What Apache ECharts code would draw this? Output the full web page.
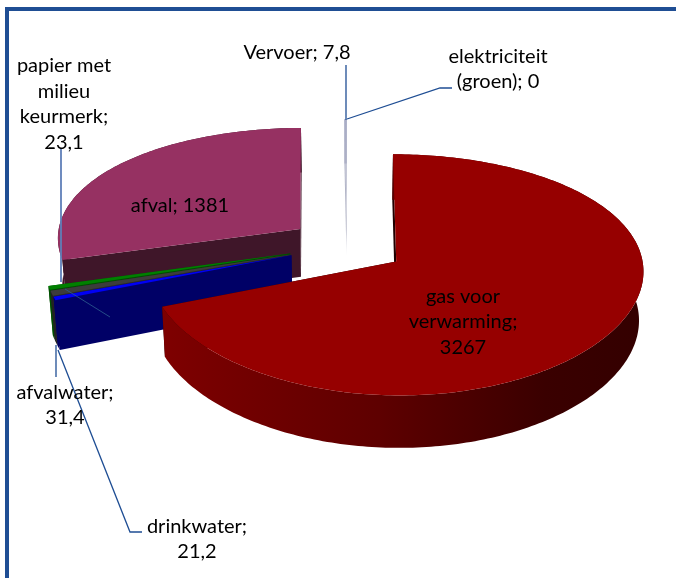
<!DOCTYPE html>
<html><head><meta charset="utf-8">
<style>html,body{margin:0;padding:0;background:#fff}#c{width:676px;height:578px}</style>
<script src="https://cdn.jsdelivr.net/npm/echarts@6/dist/echarts.min.js"></script>
</head><body><div id="c"></div>
<script>
// ---- data
const categories = ['gas voor verwarming','drinkwater','afvalwater','papier met milieu keurmerk','afval','Vervoer','elektriciteit (groen)'];
const values = [3267, 21.2, 31.4, 23.1, 1381, 7.8, 0];
const labelTemplates = ['gas voor\nverwarming;\n#','drinkwater;\n#','afvalwater;\n#','papier met\nmilieu\nkeurmerk;\n#','afval; #','Vervoer; #','elektriciteit\n(groen); #'];
const topColors = ['#960000','#0000f5','#3c3c3c','#008000','#963162','#a9adc6','#b0b0c0'];
const cutColors = ['#200000','#000066','#2a2a2a','#004d00','#3f1629','#b4b6c6','#b0b0c0'];
const sideColors = ['#7c0000','#000066','#222222','#005000','#3f1629','#c0c2d0','#b0b0c0'];
// back-to-front
const paintOrder = [6,5,4,3,2,1,0];

// ---- layout of the tilted, exploded pie
const CX=347, CY=245.4, R=244, EXPLODE=59, TILT=0.4735, PERSP_Y=0.11, PERSP_X=0.07, DEPTH=49, FALL=0.015;
const labelPos = [[463,322],[197,539],[65,405],[64,104],[180,206],[297,53],[498,69]];
const LEADER = '#1f4e94';
const total = values.reduce((a,b)=>a+b,0);
const rad = d=>d*Math.PI/180;
const spans = []; let acc=0;
values.forEach(v=>{const s=acc; acc+=v/total*360; spans.push([s,acc]);});

function project(X,Y,Z){
  const fall=1-FALL*Z/DEPTH;
  const sx=1/(1-PERSP_X*Y/R)*fall, sy=1/(1-PERSP_Y*Y/R);
  return [CX+X*sx, CY+TILT*Y*sy+Z*sx];
}
const gasSide=new echarts.graphic.LinearGradient(164,0,640,0,[
  {offset:0,color:'#7e0000'},{offset:0.45,color:'#5e0000'},{offset:0.8,color:'#3a0000'},{offset:1,color:'#340000'}],true);
const vervoerCut=new echarts.graphic.LinearGradient(0,120,0,256,[
  {offset:0,color:'#a9adc6'},{offset:0.8,color:'#b4b6c6'},{offset:1,color:'#ffffff'}],true);

function renderSlice(params, api){
  const idx = paintOrder[params.dataIndex];
  const v = api.value(0);
  if(!(v>0)) return {type:'group',children:[]};
  const [a0,a1]=spans[idx], mid=(a0+a1)/2;
  const ax=EXPLODE*Math.sin(rad(mid)), ay=-EXPLODE*Math.cos(rad(mid));
  const rim=(a,Z)=>project(ax+R*Math.sin(rad(a)), ay-R*Math.cos(rad(a)), Z);
  const apex=Z=>project(ax,ay,Z);
  const kids=[];
  const poly=(points,color)=>kids.push({type:'polygon',shape:{points},style:{fill:color}});
  const isVervoer=categories[idx]==='Vervoer', isGas=idx===0;
  const cut=isVervoer?vervoerCut:cutColors[idx];
  poly([apex(0),rim(a0,0),rim(a0,DEPTH),apex(DEPTH)],cut);
  poly([apex(0),rim(a1,0),rim(a1,DEPTH),apex(DEPTH)],cut);
  const step=Math.min(1,(a1-a0));
  const arcAngles=[];
  for(let a=a0;a<a1;a+=step) arcAngles.push(a);
  arcAngles.push(a1);
  poly([...arcAngles.map(a=>rim(a,0)),...arcAngles.slice().reverse().map(a=>rim(a,DEPTH))],isGas?gasSide:(isVervoer?vervoerCut:sideColors[idx]));
  poly([apex(0),...arcAngles.map(a=>rim(a,0))],isVervoer?vervoerCut:topColors[idx]);
  return {type:'group',children:kids};
}

const fmt=v=>String(v).replace('.',',');
const textEls = labelTemplates.map((t,i)=>({
  type:'text',x:labelPos[i][0],y:labelPos[i][1],z:50,silent:true,
  style:{text:t.replace('#',fmt(values[i])),font:'20px Lato',fill:'#000',align:'center',verticalAlign:'middle',lineHeight:25.7}
}));
const leaders=[
  {p:[[61,148],[61,282]],c:'#5f7fb8',w:1.8},
  {p:[[65,289],[110,317]],c:'#2f6090',w:0.8},
  {p:[[56,345],[56,377]],c:LEADER,w:1.3},
  {p:[[58,350],[130,532],[142,532]],c:LEADER,w:1.3},
  {p:[[346,65],[346,120]],c:LEADER,w:1.3},
  {p:[[347,119],[440,88],[452,88]],c:LEADER,w:1.3}
];
const lineEls=leaders.map(l=>({type:'polyline',z:40,silent:true,shape:{points:l.p},style:{stroke:l.c,lineWidth:l.w,fill:null}}));
const frame=[
  {type:'rect',z:60,silent:true,shape:{x:5,y:7,width:671,height:4},style:{fill:'#1f4e94'}},
  {type:'rect',z:60,silent:true,shape:{x:5,y:7,width:4,height:571},style:{fill:'#1f4e94'}}
];

const chart=echarts.init(document.getElementById('c'),null,{renderer:'canvas'});
chart.setOption({
  backgroundColor:'#fff',animation:false,
  graphic:{elements:[...frame,...lineEls,...textEls]},
  series:[{type:'custom',coordinateSystem:'none',silent:true,z:10,
    data:paintOrder.map(i=>({name:categories[i],value:[values[i]]})),
    renderItem:renderSlice}]
});
</script></body></html>
